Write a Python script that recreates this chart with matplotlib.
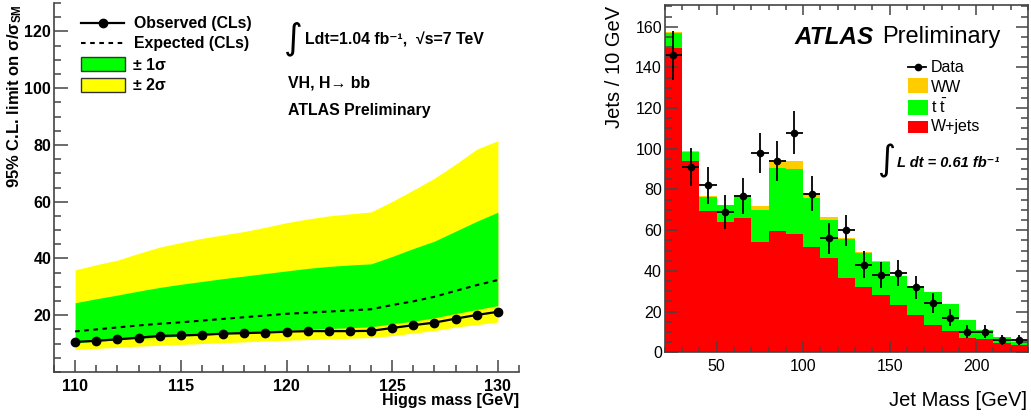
import numpy as np
import matplotlib
matplotlib.use("Agg")
import matplotlib.pyplot as plt
from matplotlib.lines import Line2D
from matplotlib.patches import Rectangle
from matplotlib.ticker import MultipleLocator

plt.rcParams['font.family'] = ['Liberation Sans', 'DejaVu Sans']
plt.rcParams['mathtext.fontset'] = 'custom'
plt.rcParams['mathtext.rm'] = 'Liberation Sans'
plt.rcParams['mathtext.it'] = 'Liberation Sans:italic'
plt.rcParams['mathtext.bf'] = 'Liberation Sans:bold'

# ---------------- Left panel data ----------------
mass = [110, 111, 112, 113, 114, 115, 116, 117, 118, 119, 120,
        121, 122, 123, 124, 125, 126, 127, 128, 129, 130]
observed = [10.6, 11.0, 11.5, 12.1, 12.7, 12.9, 13.1, 13.5, 13.7, 13.9, 14.2,
            14.4, 14.4, 14.4, 14.5, 15.5, 16.5, 17.4, 18.8, 20.1, 21.2]
expected = [14.3, 15.0, 15.7, 16.4, 17.0, 17.5, 18.1, 18.7, 19.3, 19.9, 20.5,
            20.9, 21.3, 21.7, 22.1, 23.6, 24.9, 26.5, 28.6, 30.6, 32.4]
plus1 = [24.4, 25.8, 27.1, 28.5, 29.8, 30.9, 31.9, 32.9, 33.8, 34.7, 35.6,
         36.5, 37.2, 37.7, 38.1, 40.7, 43.5, 46.1, 49.6, 53.1, 56.3]
minus1 = [10.3, 10.8, 11.3, 11.8, 12.2, 12.6, 13.0, 13.5, 13.9, 14.3, 14.8,
          15.0, 15.3, 15.6, 15.9, 17.0, 17.9, 19.1, 20.6, 22.0, 23.4]
plus2 = [36.0, 37.8, 39.4, 41.8, 44.0, 45.6, 47.1, 48.3, 49.5, 51.0, 52.6,
         53.9, 55.0, 55.7, 56.4, 60.1, 64.1, 68.3, 73.2, 78.5, 81.5]
minus2 = [7.9, 8.3, 8.7, 9.1, 9.4, 9.7, 10.0, 10.3, 10.6, 10.9, 11.2,
          11.4, 11.6, 11.9, 12.1, 12.8, 13.7, 14.6, 15.8, 16.7, 17.6]

# ---------------- Right panel data ----------------
bin_edges = [20, 30, 40, 50, 60, 70, 80, 90, 100, 110, 120, 130, 140,
             150, 160, 170, 180, 190, 200, 210, 220, 230]
wjets = [149.7, 94.0, 69.4, 64.2, 66.1, 54.2, 59.6, 58.3, 51.6, 46.5, 36.7,
         31.9, 28.0, 23.4, 18.3, 13.4, 10.6, 7.2, 6.4, 4.4, 3.6]
ttbar = [7.0, 4.5, 6.8, 8.2, 10.9, 15.7, 31.0, 31.6, 24.4, 18.5, 18.8,
         17.0, 16.5, 14.1, 14.3, 16.1, 13.1, 8.5, 4.6, 3.0, 1.6]
ww = [0.5, 0.4, 0.4, 0.2, 0.3, 2.2, 3.9, 3.9, 2.1, 1.3, 0.5,
      0.2, 0.2, 0.2, 0.2, 0.2, 0.2, 0.2, 0.2, 0.2, 0.2]
data = [146, 91, 82, 69, 77, 98, 94, 108, 78, 56, 60,
        43, 38, 39, 32, 24, 17, 10, 10, 6, 6]
data_err = [12.1, 9.5, 9.1, 8.3, 8.8, 9.9, 9.7, 10.4, 8.8, 7.5, 7.7,
            6.6, 6.2, 6.2, 5.7, 4.9, 4.1, 3.2, 3.2, 2.4, 2.4]

W, H = 1031, 417
fig = plt.figure(figsize=(W / 100, H / 100), dpi=100)

def fx(x):
    return x / W

def fy(y):
    return 1 - y / H

AX = '#444444'
GREEN = '#00ff00'
YELLOW = '#ffff00'
RED = '#ff0000'
ORANGE = '#ffcc00'

# ================= Left panel =================
axL = fig.add_axes([fx(54), fy(372), (519 - 54) / W, (372 - 3) / H])
axL.fill_between(mass, minus2, plus2, color=YELLOW, lw=0)
axL.fill_between(mass, minus1, plus1, color=GREEN, lw=0)
axL.plot(mass, expected, color='black', ls=(0, (2.2, 2.2)), lw=1.5)
axL.plot(mass, observed, color='black', lw=1.6, marker='o', ms=6)
axL.set_xlim(109, 131)
axL.set_ylim(0, 130)
axL.xaxis.set_major_locator(MultipleLocator(5))
axL.xaxis.set_minor_locator(MultipleLocator(1))
axL.set_yticks([20, 40, 60, 80, 100, 120])
axL.yaxis.set_minor_locator(MultipleLocator(5))
for s in ['top', 'right']:
    axL.spines[s].set_visible(False)
for s in ['left', 'bottom']:
    axL.spines[s].set_color(AX)
    axL.spines[s].set_linewidth(1.2)
axL.tick_params(axis='x', which='major', direction='in', length=8.5, width=1.1,
                color=AX, labelsize=11.5, pad=5)
axL.tick_params(axis='x', which='minor', direction='in', length=4.8, width=1.1, color=AX)
axL.tick_params(axis='y', which='major', direction='in', length=10, width=1.1,
                color=AX, labelsize=11.5, pad=2)
axL.tick_params(axis='y', which='minor', direction='in', length=5, width=1.1, color=AX)
for lab in axL.get_xticklabels() + axL.get_yticklabels():
    lab.set_fontweight('bold')

fig.text(fx(519), fy(400), 'Higgs mass [GeV]', ha='right', va='center',
         fontsize=11.5, fontweight='bold')
fig.text(fx(15), fy(4), r'95% C.L. limit on σ/σ$_{\mathbf{SM}}$', rotation=90,
         ha='center', va='top', fontsize=12, fontweight='bold')

# legend (left)
bold = dict(fontsize=11.4, fontweight='bold', va='center', ha='left')
fig.add_artist(Line2D([fx(81), fx(124)], [fy(23.3), fy(23.3)], color='black', lw=1.6))
fig.add_artist(Line2D([fx(103)], [fy(23.3)], color='black', marker='o', ms=6))
fig.text(fx(134), fy(23.3), 'Observed (CLs)', **bold)
fig.add_artist(Line2D([fx(81), fx(124)], [fy(43.3), fy(43.3)], color='black', lw=1.5,
                      ls=(0, (2.2, 2.2))))
fig.text(fx(134), fy(43.3), 'Expected (CLs)', **bold)
fig.add_artist(Rectangle((fx(81), fy(71)), (125 - 81) / W, 14 / H, facecolor=GREEN,
                         edgecolor='#333333', lw=1.0))
fig.text(fx(133), fy(65), '± 1σ', **bold)
fig.add_artist(Rectangle((fx(81), fy(92)), (125 - 81) / W, 14 / H, facecolor=YELLOW,
                         edgecolor='#333333', lw=1.0))
fig.text(fx(133), fy(86), '± 2σ', **bold)

# annotations (left)
fig.text(fx(284), fy(39), '∫', fontsize=26, family='DejaVu Sans', va='center', ha='left')
fig.text(fx(305), fy(40), 'Ldt=1.04 fb⁻¹,  √s=7 TeV', fontsize=11.4, fontweight='bold',
         va='center', ha='left', family=['Liberation Sans', 'DejaVu Sans'])
fig.text(fx(288), fy(83), 'VH, H→ bb', fontsize=11.4, fontweight='bold',
         va='center', ha='left', family=['Liberation Sans', 'DejaVu Sans'])
fig.text(fx(288), fy(111), 'ATLAS Preliminary', fontsize=11.4, fontweight='bold',
         va='center', ha='left')

# ================= Right panel =================
axR = fig.add_axes([fx(664.7), fy(352.3), (1028 - 664.7) / W, (352.3 - 4.7) / H])
wj = np.array(wjets)
tt = np.array(ttbar)
wwv = np.array(ww)
axR.stairs(wj + tt + wwv, bin_edges, baseline=wj + tt, fill=True, color=ORANGE, lw=0)
axR.stairs(wj + tt, bin_edges, baseline=wj, fill=True, color=GREEN, lw=0)
axR.stairs(wj, bin_edges, baseline=0, fill=True, color=RED, lw=0)
centers = [(bin_edges[i] + bin_edges[i + 1]) / 2 for i in range(len(data))]
xerr = [(bin_edges[i + 1] - bin_edges[i]) / 2 for i in range(len(data))]
axR.errorbar(centers, data, yerr=data_err, xerr=xerr, fmt='o', color='black',
             ms=4.5, elinewidth=1.3, capsize=0)
axR.set_xlim(20, 230)
axR.set_ylim(0, 170.8)
axR.xaxis.set_major_locator(MultipleLocator(50))
axR.xaxis.set_minor_locator(MultipleLocator(10))
axR.yaxis.set_major_locator(MultipleLocator(20))
axR.yaxis.set_minor_locator(MultipleLocator(5))
for s in axR.spines.values():
    s.set_color(AX)
    s.set_linewidth(1.2)
axR.tick_params(axis='both', which='both', direction='in', top=True, right=True,
                color=AX, width=1.1)
axR.tick_params(axis='x', which='major', length=7.5, labelsize=11.5, pad=4.5)
axR.tick_params(axis='x', which='minor', length=3.8)
axR.tick_params(axis='y', which='major', length=9, labelsize=11.5, pad=2)
axR.tick_params(axis='y', which='minor', length=5)

fig.text(fx(1027), fy(400), 'Jet Mass [GeV]', ha='right', va='center', fontsize=14.5)
fig.text(fx(615), fy(6), 'Jets / 10 GeV', rotation=90, ha='center', va='top', fontsize=14.5)

fig.text(fx(794), fy(37), 'ATLAS', fontsize=17.5, fontweight='bold', fontstyle='italic',
         va='center', ha='left')
fig.text(fx(882), fy(37), 'Preliminary', fontsize=17, va='center', ha='left')

# legend (right)
norm = dict(fontsize=11.5, va='center', ha='left')
fig.add_artist(Line2D([fx(908), fx(926)], [fy(66.7), fy(66.7)], color='black', lw=1.3))
fig.add_artist(Line2D([fx(917.5)], [fy(66.7)], color='black', marker='o', ms=4.5))
fig.text(fx(931), fy(67), 'Data', **norm)
fig.add_artist(Rectangle((fx(908), fy(93)), 20 / W, 15 / H, facecolor=ORANGE, lw=0))
fig.text(fx(931), fy(87), 'WW', **norm)
fig.add_artist(Rectangle((fx(908), fy(115)), 20 / W, 15 / H, facecolor=GREEN, lw=0))
fig.text(fx(931), fy(107), r't $\mathrm{\bar{t}}$', **norm)
fig.add_artist(Rectangle((fx(908), fy(133)), 20 / W, 12 / H, facecolor=RED, lw=0))
fig.text(fx(931), fy(126), 'W+jets', **norm)

fig.text(fx(877), fy(161), '∫', fontsize=25, family='DejaVu Sans', va='center', ha='left')
fig.text(fx(897), fy(163), 'L dt = 0.61 fb⁻¹', fontsize=10.5, fontweight='bold',
         fontstyle='italic', va='center', ha='left', family=['Liberation Sans', 'DejaVu Sans'])

fig.savefig('out.png', dpi=100)
